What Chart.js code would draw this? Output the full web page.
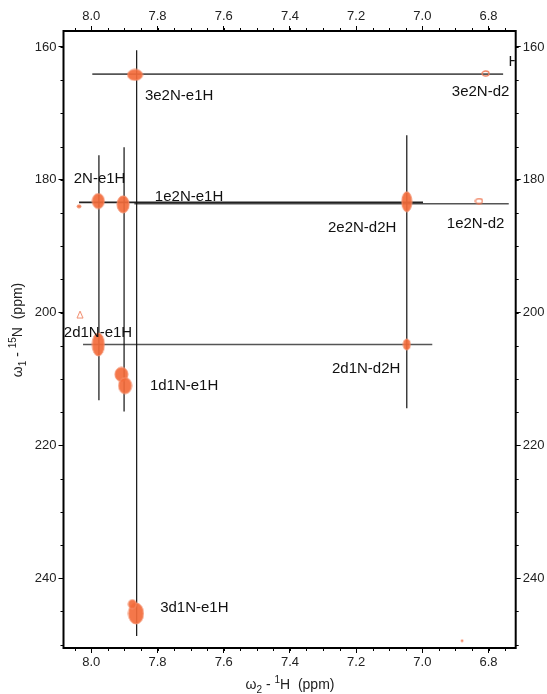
<!DOCTYPE html>
<html>
<head>
<meta charset="utf-8">
<script src="https://cdn.jsdelivr.net/npm/chart.js@4/dist/chart.umd.min.js"></script>
<style>
  body { margin: 0; background: #fff; }
  canvas { display: block; }
</style>
</head>
<body>
<canvas id="nmrChart" width="547" height="694"></canvas>
<script>
// peak positions (ppm): 1H (x) and 15N (y)
const peakH = [7.868, 6.809, 7.979, 7.904, 8.037, 7.047, 6.829, 7.979, 7.909, 7.898, 8.034, 7.047, 7.865, 7.876, 6.88];
const peakN = [164.2, 164.0, 183.2, 183.7, 184.0, 183.3, 183.2, 204.8, 209.3, 211.0, 200.3, 204.8, 245.3, 243.9, 249.4];

// assignment strip lines
const vLineH = [7.977, 7.901, 7.863, 7.047];
const vLineN0 = [176.3, 175.1, 160.5, 173.3];
const vLineN1 = [213.2, 214.9, 248.7, 214.4];
const hLineN = [164.1, 183.4, 183.6, 204.8];
const hLineH0 = [7.997, 8.037, 7.87, 8.025];
const hLineH1 = [6.756, 6.998, 6.739, 6.97];

// labels
const labelText = ['3e2N-e1H', '3e2N-d2', 'H', '2N-e1H', '1e2N-e1H', '2e2N-d2H', '1e2N-d2', '2d1N-e1H', '1d1N-e1H', '2d1N-d2H', '3d1N-e1H'];
const labelH = [7.838, 6.911, 6.74, 8.053, 7.808, 7.285, 6.926, 8.083, 7.823, 7.273, 7.792];
const labelN = [167.3, 166.8, 162.3, 179.8, 182.5, 187.3, 186.6, 203.0, 211.1, 208.4, 244.5];

// axis ticks
const xTicks = [8.0, 7.8, 7.6, 7.4, 7.2, 7.0, 6.8];
const yTicks = [160, 180, 200, 220, 240];

const xMin = 6.718, xMax = 8.084;
const yMin = 157.6, yMax = 250.5;

// blob look for each peak: [width px, height px, kind]
const blobStyle = [
  [15, 11, 'fill'], [7, 5, 'ring'], [12, 15, 'fill'], [12, 17, 'fill'], [4, 3, 'fill'],
  [10, 20, 'fill'], [7, 5, 'ring'], [12, 23, 'fill'], [13, 14, 'fill'], [13, 16, 'fill'],
  [6, 7, 'tri'], [7, 11, 'fill'], [15, 21, 'fill'], [8, 9, 'fill'], [2, 2, 'fill']
];

function makeBlob(w, h, kind) {
  const c = document.createElement('canvas');
  c.width = w + 2; c.height = h + 2;
  const g = c.getContext('2d');
  g.lineWidth = 1;
  if (kind === 'tri') {
    g.strokeStyle = '#f08a6a';
    g.beginPath();
    g.moveTo(c.width / 2, 1);
    g.lineTo(c.width - 1, c.height - 1);
    g.lineTo(1, c.height - 1);
    g.closePath();
    g.stroke();
    return c;
  }
  g.beginPath();
  g.ellipse(c.width / 2, c.height / 2, w / 2, h / 2, 0, 0, Math.PI * 2);
  if (kind === 'fill') {
    g.fillStyle = 'rgba(243,107,59,0.92)';
    g.fill();
    g.strokeStyle = '#f4906e';
    g.stroke();
  } else {
    g.strokeStyle = '#f0805e';
    g.lineWidth = 1.3;
    g.stroke();
  }
  return c;
}
const blobs = blobStyle.map(s => makeBlob(s[0], s[1], s[2]));

const datasets = [];
datasets.push({
  data: peakH.map((x, i) => ({x: x, y: peakN[i]})),
  pointStyle: c => blobs[c.dataIndex],
  pointRadius: 8
});
vLineH.forEach((x, i) => {
  datasets.push({
    data: [{x: x, y: vLineN0[i]}, {x: x, y: vLineN1[i]}],
    showLine: true, borderColor: '#111', borderWidth: 1.2, pointRadius: 0
  });
});
hLineN.forEach((y, i) => {
  datasets.push({
    data: [{x: hLineH0[i], y: y}, {x: hLineH1[i], y: y}],
    showLine: true, borderColor: i === 1 ? '#222' : '#555', borderWidth: 1.6, pointRadius: 0
  });
});

Chart.defaults.font.family = "'Liberation Sans', Arial, sans-serif";
Chart.defaults.color = '#222';

// minor ticks, frame, peak labels, axis titles
const extras = {
  id: 'extras',
  afterDraw(chart) {
    const g = chart.ctx;
    const a = chart.chartArea;
    const sx = chart.scales.x, sy = chart.scales.y;
    g.save();
    g.strokeStyle = '#000';
    g.lineWidth = 1;
    g.beginPath();
    for (let v = 6.75; v <= 8.08; v += 0.05) {
      const px = Math.round(sx.getPixelForValue(v)) + 0.5;
      g.moveTo(px, a.bottom); g.lineTo(px, a.bottom + 3);
      g.moveTo(px, a.top); g.lineTo(px, a.top - 3);
    }
    for (let v = 160; v <= 250; v += 5) {
      const py = Math.round(sy.getPixelForValue(v)) + 0.5;
      g.moveTo(a.left, py); g.lineTo(a.left - 3, py);
      g.moveTo(a.right, py); g.lineTo(a.right + 3, py);
    }
    g.stroke();

    g.lineWidth = 2;
    g.strokeRect(a.left, a.top, a.right - a.left, a.bottom - a.top);

    // peak labels
    g.save();
    g.beginPath();
    g.rect(a.left, a.top, a.right - a.left - 1, a.bottom - a.top);
    g.clip();
    g.fillStyle = '#111';
    g.font = "15px 'Liberation Sans', Arial, sans-serif";
    g.textAlign = 'left';
    g.textBaseline = 'middle';
    labelText.forEach((t, i) => {
      g.fillText(t, sx.getPixelForValue(labelH[i]), sy.getPixelForValue(labelN[i]));
    });
    g.restore();

    // axis titles
    g.fillStyle = '#222';
    g.textBaseline = 'alphabetic';
    g.textAlign = 'left';
    const big = "14px 'Liberation Sans', Arial, sans-serif";
    const small = "10px 'Liberation Sans', Arial, sans-serif";
    function titleParts(parts) {
      let w = 0;
      parts.forEach(p => { g.font = p[1] ? small : big; w += g.measureText(p[0]).width; });
      return w;
    }
    function drawParts(parts, x, y) {
      parts.forEach(p => {
        g.font = p[1] ? small : big;
        g.fillText(p[0], x, y + p[1]);
        x += g.measureText(p[0]).width;
      });
    }
    const xt = [['\u03c9', 0], ['2', 4], [' - ', 0], ['1', -6], ['H  (ppm)', 0]];
    drawParts(xt, 290 - titleParts(xt) / 2, 689);
    const yt = [['\u03c9', 0], ['1', 4], [' - ', 0], ['15', -6], ['N  (ppm)', 0]];
    g.translate(22, 330);
    g.rotate(-Math.PI / 2);
    drawParts(yt, -titleParts(yt) / 2, 0);
    g.restore();
  }
};

function axisBase(pos, isX) {
  return {
    type: 'linear',
    position: pos,
    reverse: true,
    min: isX ? xMin : yMin,
    max: isX ? xMax : yMax,
    border: {display: false},
    grid: {drawOnChartArea: false, drawTicks: true, tickLength: 5, color: '#000', lineWidth: 1},
    ticks: {
      font: {size: 13},
      color: '#222',
      padding: 2,
      maxRotation: 0,
      callback: v => isX ? v.toFixed(1) : String(v)
    },
    afterBuildTicks: s => { s.ticks = (isX ? xTicks : yTicks).map(v => ({value: v})); }
  };
}

const scales = {
  x: Object.assign(axisBase('bottom', true), {afterFit: s => { s.height = 46; }}),
  x2: Object.assign(axisBase('top', true), {afterFit: s => { s.height = 31; }}),
  y: Object.assign(axisBase('left', false), {afterFit: s => { s.width = 63.5; }}),
  y2: Object.assign(axisBase('right', false), {afterFit: s => { s.width = 31.3; }})
};

const ctx = document.getElementById('nmrChart');
new Chart(ctx, {
  type: 'scatter',
  data: {datasets: datasets},
  options: {
    responsive: false,
    animation: false,
    layout: {padding: 0},
    plugins: {legend: {display: false}, tooltip: {enabled: false}},
    scales: scales
  },
  plugins: [extras]
});
</script>
</body>
</html>
